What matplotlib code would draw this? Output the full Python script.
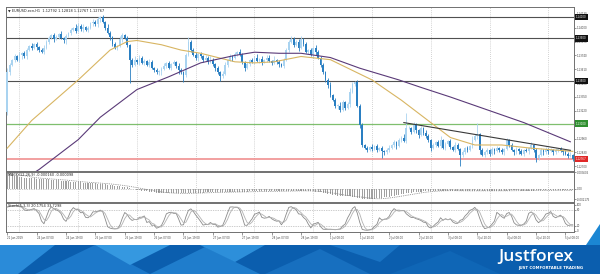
import numpy as np
import pandas as pd
import matplotlib
matplotlib.use("Agg")
import matplotlib.pyplot as plt
from matplotlib.patches import Polygon
import matplotlib.transforms as mtransforms

# EURUSD H1, 21 Jun - 5 Jul 2019
first_open = 1.1321
closes = [
    1.1358, 1.1365,
    1.1370, 1.1373, 1.1370, 1.1374, 1.1376, 1.1373,
    1.1379, 1.1383, 1.1381, 1.1385, 1.1382, 1.1379, 1.1377, 1.1381,
    1.1387, 1.1390, 1.1393, 1.1389, 1.1391, 1.1394, 1.1390, 1.1388, 1.1392, 1.1395,
    1.1398, 1.1400, 1.1397, 1.1402, 1.1399, 1.1401, 1.1398, 1.1400,
    1.1404, 1.1405, 1.1403, 1.1408, 1.1410,
    1.1405, 1.1400, 1.1395, 1.1391,
    1.1385, 1.1381, 1.1383,
    1.1389, 1.1393, 1.1390,
    1.1384, 1.1370, 1.1365,
    1.1370, 1.1368, 1.1372, 1.1367, 1.1369, 1.1365, 1.1368,
    1.1362, 1.1360, 1.1358, 1.1359, 1.1361,
    1.1364, 1.1367, 1.1362, 1.1366, 1.1368, 1.1364, 1.1360, 1.1358,
    1.1356,
    1.1374, 1.1387,
    1.1379, 1.1374, 1.1372, 1.1375, 1.1373, 1.1370,
    1.1372, 1.1368, 1.1370, 1.1366,
    1.1362, 1.1358, 1.1355, 1.1357,
    1.1365, 1.1370, 1.1373, 1.1372, 1.1375, 1.1377, 1.1374,
    1.1368, 1.1362, 1.1366,
    1.1370, 1.1368, 1.1372, 1.1369, 1.1371, 1.1368, 1.1370, 1.1372, 1.1369, 1.1367,
    1.1370, 1.1368, 1.1366, 1.1364, 1.1370,
    1.1379, 1.1387, 1.1389, 1.1384,
    1.1387, 1.1381, 1.1389, 1.1385, 1.1377,
    1.1379, 1.1374, 1.1381, 1.1377,
    1.1372, 1.1365, 1.1358, 1.1351,
    1.1346, 1.1337, 1.1332, 1.1327,
    1.1327, 1.1323, 1.1330, 1.1325, 1.1328,
    1.1340, 1.1347, 1.1349,
    1.1327, 1.1309, 1.1290,
    1.1287, 1.1285, 1.1288, 1.1286, 1.1289, 1.1285, 1.1287, 1.1284, 1.1283, 1.1285,
    1.1287, 1.1290, 1.1293, 1.1289, 1.1295, 1.1297, 1.1294,
    1.1306,
    1.1306, 1.1302, 1.1309, 1.1304, 1.1299, 1.1306, 1.1301, 1.1298,
    1.1295, 1.1287, 1.1290,
    1.1293, 1.1289, 1.1295, 1.1287, 1.1291, 1.1294, 1.1288, 1.1285, 1.1290, 1.1286,
    1.1281,
    1.1283, 1.1287, 1.1285, 1.1289,
    1.1295, 1.1298, 1.1300,
    1.1285, 1.1281,
    1.1283, 1.1285, 1.1282, 1.1286, 1.1284, 1.1287, 1.1285, 1.1283, 1.1286,
    1.1295, 1.1290,
    1.1285, 1.1283, 1.1286, 1.1284, 1.1282, 1.1285, 1.1284, 1.1287,
    1.1290, 1.1285,
    1.1278, 1.1281,
    1.1285, 1.1283, 1.1286, 1.1284, 1.1285, 1.1283, 1.1285, 1.1286,
    1.1284, 1.1283,
    1.1282, 1.1280, 1.1281, 1.12767,
]
# wick lengths beyond the body, in pips
wick_up = [
    4, 2, 1, 2, 1, 3, 1, 2, 2, 1, 3, 1, 2, 1, 2, 3, 1, 2, 1, 2,
    2, 1, 3, 1, 2, 1, 2, 1, 3, 2, 1, 2, 1, 2, 1, 3, 2, 2, 1, 2,
    1, 3, 2, 1, 2, 1, 3, 2, 1, 2, 1, 2, 3, 1, 2, 1, 2, 1, 3, 2,
    1, 2, 1, 2, 3, 1, 2, 1, 2, 1, 3, 2, 1, 2, 4, 1, 2, 3, 1, 2,
    1, 2, 1, 3, 2, 1, 2, 1, 2, 3, 1, 2, 1, 2, 1, 3, 2, 1, 2, 1,
    2, 1, 3, 1, 2, 1, 2, 2, 1, 3, 1, 2, 1, 2, 2, 1, 3, 2, 1, 2,
    3, 1, 2, 1, 2, 1, 3, 2, 1, 2, 1, 2, 3, 1, 2, 1, 3, 2, 1, 2,
    3, 2, 1, 2, 1, 2, 1, 2, 1, 3, 1, 2, 1, 2, 1, 2, 3, 1, 2, 1,
    2, 1, 3, 14, 2, 1, 3, 2, 1, 2, 1, 3, 2, 1, 2, 1, 2, 3, 1, 2,
    1, 2, 1, 3, 2, 1, 2, 1, 2, 1, 3, 2, 11, 1, 2, 1, 2, 1, 2, 1,
    2, 1, 2, 1, 2, 1, 2, 1, 2, 1, 2, 1, 2, 1, 3, 1, 2, 1, 2, 1,
    2, 1, 2, 1, 2, 1, 2, 1, 2, 1, 2, 1,
]
wick_dn = [
    3, 2, 1, 2, 1, 2, 3, 1, 2, 1, 2, 1, 3, 2, 1, 2, 1, 2, 1, 2,
    1, 2, 1, 2, 3, 1, 2, 1, 2, 1, 2, 3, 1, 2, 1, 2, 1, 2, 3, 1,
    2, 1, 3, 2, 1, 2, 1, 2, 1, 2, 22, 2, 1, 2, 3, 1, 2, 1, 2, 1,
    2, 1, 2, 3, 1, 2, 1, 2, 1, 2, 3, 1, 7, 2, 1, 2, 1, 2, 3, 1,
    2, 1, 2, 1, 2, 3, 1, 5, 2, 1, 2, 1, 3, 1, 2, 1, 2, 3, 1, 2,
    1, 2, 1, 2, 3, 1, 2, 1, 2, 1, 2, 3, 1, 2, 1, 2, 1, 2, 1, 3,
    1, 2, 1, 2, 1, 2, 3, 1, 2, 1, 2, 3, 2, 1, 2, 3, 2, 1, 2, 1,
    2, 1, 2, 1, 3, 2, 1, 2, 1, 2, 1, 2, 1, 6, 2, 1, 2, 1, 2, 3,
    1, 2, 1, 2, 1, 2, 1, 3, 2, 1, 2, 1, 2, 3, 1, 2, 1, 2, 1, 2,
    1, 2, 1, 2, 1, 11, 2, 1, 2, 1, 2, 1, 2, 3, 1, 2, 1, 2, 1, 2,
    1, 2, 1, 2, 1, 2, 1, 2, 1, 2, 1, 2, 1, 2, 1, 2, 4, 2, 1, 2,
    1, 2, 1, 2, 1, 2, 1, 2, 1, 2, 1, 2,
]
# MACD(12,26,9) main line, in units of 0.00001
macd_main = [
    340, 320, 300, 285, 270, 255, 245, 238, 232, 228, 225,
    222, 220, 218, 215, 212, 208, 204, 200, 195, 190, 185, 178, 172, 165, 158,
    152, 148, 145, 142, 138, 134, 130, 127, 124, 120, 116, 112, 108,
    104, 98, 92, 85, 78, 70, 62, 55, 48, 40, 30, 20, 8, -5,
    -15, -25, -35, -45, -55, -62, -68, -74, -80, -85, -90, -93, -95, -97, -98, -98,
    -97, -96, -95, -93, -92, -90, -88,
    -86, -84, -82, -80, -78, -76, -74, -73, -72, -71, -70, -70, -70, -69, -68,
    -66, -64, -62, -60, -59, -58, -57, -56, -55, -55, -54, -54, -53, -53, -52,
    -52, -52, -51, -51, -50, -48, -46, -44, -42, -41, -40, -40, -40, -41, -42,
    -43, -45, -47, -50,
    -55, -60, -66, -74, -84, -95, -106, -118, -128, -138, -146, -152, -156,
    -158, -158, -160, -168, -180, -195, -205, -212, -216, -217, -216, -214, -210,
    -205, -198, -190, -182, -174, -165, -156, -147, -138, -128, -118, -108, -98,
    -90, -82, -75, -68, -62, -57, -52, -48, -45, -42, -40, -38,
    -36, -35, -35, -36, -37, -38, -40, -42, -43, -44, -44, -43, -42, -40, -38,
    -36, -36, -38, -40, -42, -43, -43, -42, -41, -40, -39, -38, -37, -36, -35,
    -34, -33, -33, -34, -35, -36, -37, -37, -36, -35, -34, -33, -32, -31, -30,
    -30, -31, -32, -33, -33, -32, -31, -30, -30, -31, -32,
]

# moving averages and trend line (bar index, price)
ma_fast_idx = [0, 10, 29, 42, 49, 53, 63, 71, 79, 86, 93, 101, 109, 120, 132,
               149, 161, 173, 181, 191, 202, 214, 231]
ma_fast_val = [1.1287, 1.1313, 1.1351, 1.1379, 1.1387, 1.1388, 1.1384, 1.1379,
               1.1376, 1.1372, 1.1368, 1.1367, 1.1368, 1.1373, 1.1370, 1.1351,
               1.1332, 1.1311, 1.1297, 1.1290, 1.1290, 1.1287, 1.1284]
ma_slow_idx = [0, 13, 29, 38, 53, 66, 79, 93, 101, 111, 120, 132, 144, 160,
               169, 181, 196, 211, 230]
ma_slow_val = [1.1248, 1.1267, 1.1295, 1.1316, 1.1342, 1.1354, 1.1367, 1.1374,
               1.1377, 1.1376, 1.1376, 1.1372, 1.1362, 1.1351, 1.1344, 1.1335,
               1.1323, 1.1311, 1.1293]
trend_idx = [162, 230]
trend_val = [1.1311, 1.1285]

levels = [1.14100, 1.13900, 1.13500]
support = 1.13100
bid = 1.12767

price_ticks = [1.14130, 1.14000, 1.13870, 1.13740, 1.13610, 1.13480,
               1.13350, 1.13220, 1.13090, 1.12960, 1.12830, 1.12700]
time_labels = ["21 Jun 2019", "24 Jun 07:00", "24 Jun 19:00", "25 Jun 07:00",
               "25 Jun 19:00", "26 Jun 07:00", "26 Jun 19:00", "27 Jun 07:00",
               "27 Jun 19:00", "28 Jun 07:00", "28 Jun 19:00", "1 Jul 08:00",
               "1 Jul 20:00", "2 Jul 08:00", "2 Jul 20:00", "3 Jul 08:00",
               "3 Jul 20:00", "4 Jul 08:00", "4 Jul 20:00", "5 Jul 08:00"]

# ---- derived series ----
n = len(closes)
x = np.arange(n)
c = np.array(closes)
o = np.concatenate([[first_open], c[:-1]])
hi = np.maximum(o, c) + np.array(wick_up) * 1e-4
lo = np.minimum(o, c) - np.array(wick_dn) * 1e-4
bull = c >= o

hh = pd.Series(hi).rolling(5, min_periods=1).max()
ll = pd.Series(lo).rolling(5, min_periods=1).min()
k_line = 100 * (pd.Series(c) - ll).rolling(3, min_periods=1).sum() / (hh - ll).rolling(3, min_periods=1).sum()
d_line = k_line.rolling(3, min_periods=1).mean()

macd = np.array(macd_main) * 1e-5
macd_sig = pd.Series(macd).rolling(9, min_periods=1).mean()

# ---- figure ----
W, H = 600, 274
fig = plt.figure(figsize=(W / 100, H / 100), dpi=100)
fig.patch.set_facecolor("white")
plt.rcParams["font.family"] = ["DejaVu Sans"]
fs = 1.9      # axis labels
fs_t = 2.5    # panel captions
frame = "#707070"
grid_c = "#c4c4c4"


def panel(y0, y1, x0=6, x1=574):
    a = fig.add_axes([x0 / W, 1 - y1 / H, (x1 - x0) / W, (y1 - y0) / H])
    a.set_xlim(-0.5, n - 0.5)
    for s in a.spines.values():
        s.set_color(frame)
        s.set_linewidth(0.7)
    a.yaxis.tick_right()
    a.tick_params(axis="y", labelsize=fs, length=1.2, width=0.4, pad=0.8,
                  colors="#444444")
    a.set_xticks([])
    for g in range(5, n, 24):
        a.axvline(g, color=grid_c, lw=0.6, ls=(0, (1, 1.5)), zorder=0)
    return a


ax = panel(7, 171)
ax_m = panel(172, 202)
ax_s = panel(203, 232)

# main price panel
cols = np.where(bull, "#a9d3f0", "#2a7fc2")
ax.vlines(x, lo, hi, colors=cols, lw=0.6, zorder=3)
ax.bar(x, np.maximum(np.abs(c - o), 0.00002), bottom=np.minimum(o, c),
       width=0.72, color=cols, linewidth=0, zorder=3)
ax.plot(ma_fast_idx, ma_fast_val, color="#d8b562", lw=0.8, zorder=4)
ax.plot(ma_slow_idx, ma_slow_val, color="#5a3a78", lw=0.8, zorder=4)
ax.plot(trend_idx, trend_val, color="#3a3a3a", lw=0.8, zorder=4)
for v in levels:
    ax.axhline(v, color="#505050", lw=0.8, zorder=2)
ax.axhline(support, color="#7fbf6e", lw=0.9, zorder=2)
ax.axhline(bid, color="#f09090", lw=1.2, zorder=2)
ax.set_ylim(1.12656, 1.14194)
ax.set_yticks(price_ticks)
ax.set_yticklabels([f"{v:.5f}" for v in price_ticks])

tr = mtransforms.blended_transform_factory(ax.transAxes, ax.transData)
for v, fc in [(levels[0], "#111111"), (levels[1], "#111111"), (levels[2], "#111111"),
              (support, "#2f8f2f"), (bid, "#e02828")]:
    ax.text(1.003, v, f"{v:.5f}", transform=tr, fontsize=fs, color="white",
            va="center", ha="left", clip_on=False, zorder=10,
            bbox=dict(boxstyle="square,pad=0.45", fc=fc, ec="none"))
ax.text(0.004, 0.99, "\u25bc EURUSD.ecn,H1  1.12792 1.12818 1.12767 1.12767",
        transform=ax.transAxes, fontsize=fs_t, va="top", ha="left", color="#222222")

# MACD panel
ax_m.bar(x, macd, width=0.45, color="#a0a0a0", linewidth=0, zorder=2)
ax_m.plot(x, macd_sig, color="#808080", lw=0.6, ls=(0, (1, 1.2)), zorder=3)
ax_m.axhline(0, color="#9a9a9a", lw=0.5, ls=(0, (1, 1.5)))
ax_m.set_ylim(-0.0028, 0.0036)
ax_m.set_yticks([0.003605, 0.0, -0.002175])
ax_m.set_yticklabels(["0.003605", "0.00", "-0.002175"])
ax_m.text(0.004, 0.97, "MACD(12,26,9) -0.000160 -0.000098", transform=ax_m.transAxes,
          fontsize=fs_t, va="top", ha="left", color="#222222")

# Stochastic panel
ax_s.plot(x, k_line, color="#8a8a8a", lw=0.6, zorder=3)
ax_s.plot(x, d_line, color="#b2b2b2", lw=0.6, zorder=3)
for lv in (80, 20):
    ax_s.axhline(lv, color="#9a9a9a", lw=0.5, ls=(0, (1, 1.5)))
ax_s.set_ylim(-4, 106)
ax_s.set_yticks([100, 80, 20, 0])
ax_s.set_yticklabels(["100", "80", "20", "0"])
ax_s.text(0.004, 0.97, "Stoch(5,3,3) 20.1754 33.7298", transform=ax_s.transAxes,
          fontsize=fs_t, va="top", ha="left", color="#222222")
tick_idx = np.arange(len(time_labels)) * 12
ax_s.set_xticks(tick_idx)
ax_s.set_xticklabels(time_labels)
ax_s.tick_params(axis="x", labelsize=fs, length=1.8, width=0.4, pad=1.2, colors="#444444")
for t in ax_s.get_xticklabels():
    t.set_ha("left")

# footer band with logo
fa = fig.add_axes([0, 0, 1, 1])
fa.set_xlim(0, W)
fa.set_ylim(H, 0)
fa.axis("off")
fa.set_zorder(-1)
fa.add_patch(Polygon([(0, 245), (W, 245), (W, H), (0, H)], fc="#0b5eae", ec="none"))
facets = [
    ([(0, 245), (55, 245), (18, 274), (0, 274)], "#2a8bd9"),
    ([(35, 274), (95, 245), (150, 274)], "#1c78c9"),
    ([(95, 245), (170, 245), (130, 265)], "#3598e0"),
    ([(150, 274), (205, 247), (260, 274)], "#1f7dcc"),
    ([(200, 245), (265, 245), (235, 262)], "#2d8fda"),
    ([(265, 274), (320, 249), (370, 274)], "#176fbf"),
    ([(330, 245), (400, 245), (380, 262)], "#1a74c4"),
    ([(390, 274), (450, 251), (500, 274)], "#0f66b6"),
    ([(586, 245), (600, 224), (600, 245)], "#1b86d3"),
]
for pts, col in facets:
    fa.add_patch(Polygon(pts, fc=col, ec="none"))
fa.text(536, 257, "Justforex", fontsize=12.5, color="white", ha="center",
        va="center", family=["Open Sans", "DejaVu Sans"], fontweight="semibold")
fa.text(551, 268.5, "JUST COMFORTABLE TRADING", fontsize=2.8, color="white",
        ha="center", va="center", fontweight="bold")

fig.savefig("out.png", dpi=100)
